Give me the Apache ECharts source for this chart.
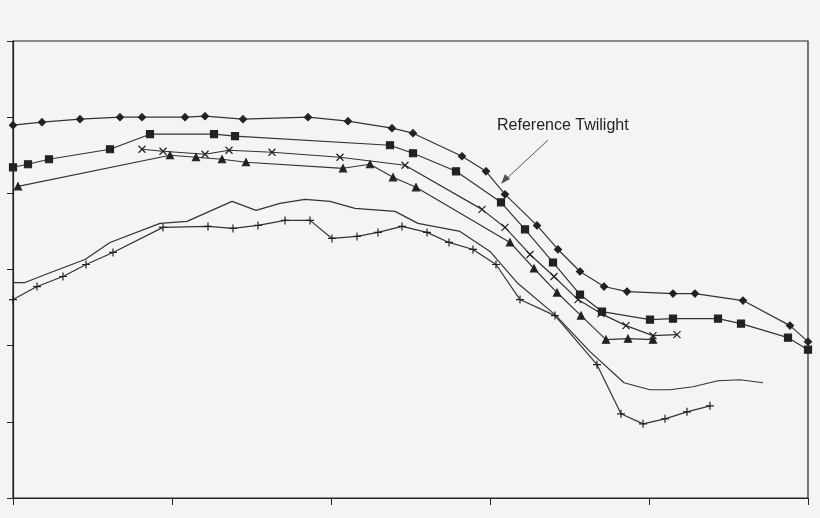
<!DOCTYPE html>
<html>
<head>
<meta charset="utf-8">
<script src="https://cdn.jsdelivr.net/npm/echarts@6/dist/echarts.min.js"></script>
<style>html,body{margin:0;background:#f4f4f4}#main{width:820px;height:518px}</style>
</head>
<body>
<div id="main"></div>
<script>
// x and y in plot units (axis 0..795, 0..456)
var refX = [0,29,67,107,129,172,192,230,295,335,379,400,449,473,492,524,545,567,591,614,660,682,730,777,795];
var refY = [372,375,378,380,380,380,381,378,380,376,369,364,341,326,303,272,248,226,211,206,204,204,197,172,156];
var sqX = [0,15,36,97,137,201,222,377,400,443,488,512,540,567,589,637,660,705,728,775,795];
var sqY = [330,333,338,348,363,363,361,352,344,326,295,268,235,203,186,178,179,179,174,160,148];
var crX = [129,150,192,216,259,327,392,469,492,517,541,565,588,613,640,664];
var crY = [348,346,343,347,345,340,332,288,270,243,221,198,184,172,162,163];
var trX = [5,157,183,209,233,330,357,380,403,497,521,544,568,593,615,640];
var trY = [311,342,340,338,335,329,333,320,310,255,229,205,182,158,159,158];
var lnX = [0,12,35,72,97,147,174,219,243,267,292,317,342,382,405,447,477,505,542,577,611,637,657,680,705,727,750];
var lnY = [215,215,224,238,255,274,276,296,287,294,298,296,289,286,274,266,246,214,183,146,115,108,108,111,117,118,115];
var plX = [0,24,50,73,100,150,195,220,245,272,297,319,344,365,389,414,436,460,483,507,542,584,608,630,652,674,697];
var plY = [198,211,221,233,245,270,271,269,272,277,277,259,261,265,271,265,255,248,233,198,182,133,84,74,79,86,92];

function pairs(xs, ys){ return xs.map(function(x,i){ return [x, ys[i]]; }); }
function line(xs, ys, symbol, size){
    return {
        type:'line', data:pairs(xs,ys), symbol:symbol||'none', symbolSize:size||6,
        lineStyle:{color:'#333',width:1.2},
        itemStyle:{color:'#222',borderColor:'#222',borderWidth:1.2},
        animation:false
    };
}
var axisLine = {lineStyle:{color:'#222',width:1.2}};
var option = {
    backgroundColor:'#f4f4f4',
    grid:{left:13,right:12,top:41,bottom:20,show:true,borderColor:'#222',borderWidth:1.2},
    xAxis:{type:'value',min:0,max:795,interval:159,axisLine:axisLine,
        axisTick:{show:true,length:7,lineStyle:{color:'#222'}},axisLabel:{show:false},splitLine:{show:false}},
    yAxis:{type:'value',min:0,max:456,interval:76,axisLine:Object.assign({show:true},axisLine),
        axisTick:{show:true,length:6,lineStyle:{color:'#222'}},axisLabel:{show:false},splitLine:{show:false}},
    series:[
        line(refX,refY,'diamond',7),
        line(sqX,sqY,'rect',7),
        line(crX,crY,'path://M0,0L10,10M10,0L0,10',7),
        line(trX,trY,'triangle',7),
        line(lnX,lnY,'none'),
        line(plX,plY,'path://M5,0L5,10M0,5L10,5',8)
    ],
    graphic:[
        {type:'text',left:497,top:118,style:{text:'Reference Twilight',font:'16px Arial, Liberation Sans',fill:'#222'}},
        {type:'line',shape:{x1:548,y1:140,x2:503,y2:182},style:{stroke:'#555',lineWidth:1}},
        {type:'polygon',shape:{points:[[501,184],[505,174],[510,179]]},style:{fill:'#555'}}
    ]
};
echarts.init(document.getElementById('main')).setOption(option);
</script>
</body>
</html>
